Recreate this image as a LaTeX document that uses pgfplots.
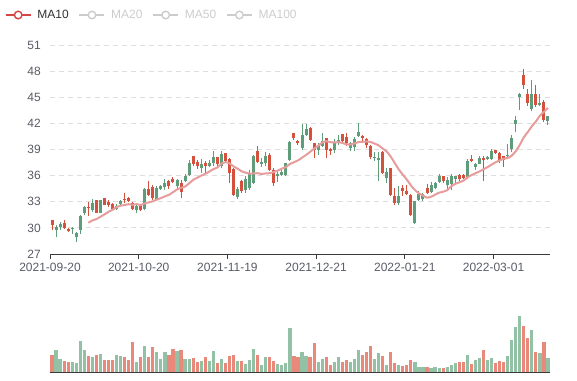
\documentclass[border=0pt]{standalone}
\usepackage{fontspec}
\setmainfont{Liberation Sans}
\usepackage{pgfplots}
\pgfplotsset{compat=1.18}
\usepackage{pgfplotstable}

\definecolor{cRed}{HTML}{D6503E}
\definecolor{cGreen}{HTML}{5F9C79}
\definecolor{vRed}{HTML}{E8897B}
\definecolor{vGreen}{HTML}{93C1A6}
\definecolor{maC}{HTML}{E69C9B}
\definecolor{legRed}{HTML}{D64545}
\definecolor{legGray}{HTML}{CCCCCC}
\definecolor{legText}{HTML}{333333}
\definecolor{axisc}{HTML}{3A3A3A}
\definecolor{labelc}{HTML}{5A5C66}
\definecolor{gridc}{HTML}{DEDEDE}

\pgfplotsset{
  up only/.style={restrict expr to domain={\thisrow{d}}{0.5:1.5}},
  down only/.style={restrict expr to domain={\thisrow{d}}{-0.5:0.5}},
  candle/.style n args={3}{forget plot, mark=none, draw=none, #1,
    error bars/.cd, y dir=plus, y explicit, error mark=none,
    error bar style={line width=#2, draw=#3}},
}

% i: trading day, o/h/l/c: open high low close, d: 1 up (green) 0 down (red), v: volume (relative)
\pgfplotstableread{
i o h l c d v
0 30.9 30.95 29.8 30.3 0 52
1 29.7 30.3 28.9 30.1 1 65
2 30.15 30.65 29.7 30.5 1 39
3 30.55 30.95 29.9 30.0 0 34
4 29.9 30.0 29.5 29.6 0 29
5 29.85 30.15 29.3 29.9 1 31
6 28.9 29.55 28.35 29.45 1 27
7 29.75 31.5 29.3 31.4 1 94
8 31.7 32.55 31.5 32.4 1 67
9 32.45 32.95 31.35 32.25 0 47
10 32.05 33.3 31.85 32.85 1 45
11 33.15 33.2 31.7 31.75 0 51
12 31.75 33.25 31.7 33.15 1 55
13 33.4 33.45 32.6 32.65 0 37
14 33.0 33.2 32.4 32.6 0 37
15 32.7 32.8 32.0 32.2 0 35
16 32.2 32.7 32.0 32.55 1 52
17 32.7 33.2 32.6 33.1 1 47
18 33.35 34.0 32.8 33.2 0 45
19 33.4 33.55 33.0 33.1 0 37
20 32.9 33.0 32.0 32.2 0 89
21 32.1 32.6 31.7 32.5 1 29
22 32.65 32.75 31.95 32.1 0 44
23 32.2 34.55 32.0 34.5 1 77
24 34.5 35.35 33.7 33.8 0 46
25 34.7 34.9 33.2 33.4 0 76
26 33.2 34.8 33.1 34.6 1 59
27 34.5 34.9 34.4 34.8 1 40
28 34.65 35.65 34.4 35.15 1 61
29 35.35 35.5 34.5 34.8 0 50
30 35.6 35.8 35.1 35.3 0 70
31 34.8 35.6 34.5 35.5 1 64
32 35.2 35.5 33.45 34.15 0 67
33 35.4 36.15 35.3 36.0 1 39
34 36.05 37.85 35.95 37.4 1 40
35 38.25 38.3 37.05 37.35 0 42
36 37.55 37.8 36.8 37.05 0 29
37 36.9 37.9 36.35 37.3 1 34
38 37.5 37.7 36.35 37.15 0 45
39 37.15 37.85 36.95 37.4 1 33
40 37.45 38.85 37.05 38.1 1 63
41 38.1 38.15 37.05 37.35 0 27
42 37.05 38.85 36.85 38.45 1 39
43 38.55 38.6 37.6 37.7 0 26
44 37.95 38.0 35.1 36.3 0 49
45 36.8 36.9 33.7 33.8 0 52
46 33.6 34.75 33.3 34.5 1 33
47 35.4 35.5 34.0 34.2 0 33
48 34.4 35.9 34.0 35.6 1 23
49 34.6 36.6 34.4 36.3 1 35
50 35.2 38.4 35.0 38.3 1 70
51 38.8 39.35 37.45 37.6 0 52
52 37.3 38.0 37.0 37.6 1 22
53 37.4 38.75 37.05 38.3 1 44
54 38.4 38.6 36.5 36.6 0 45
55 36.7 36.9 34.85 35.1 0 32
56 35.95 36.6 35.3 36.2 1 25
57 36.1 36.9 35.9 36.4 1 20
58 36.1 37.45 36.0 37.4 1 28
59 37.8 40.0 37.7 39.9 1 133
60 40.85 40.9 40.1 40.3 0 49
61 39.95 40.1 39.5 39.7 0 44
62 39.2 41.9 39.0 40.7 1 61
63 40.7 41.9 40.6 41.4 1 49
64 41.5 41.6 40.0 40.05 0 44
65 39.7 39.75 38.0 38.9 0 87
66 38.9 39.75 38.4 39.5 1 30
67 39.4 40.9 39.3 40.0 1 40
68 40.3 40.35 38.0 39.0 0 44
69 39.1 39.15 38.4 38.8 0 20
70 38.9 40.2 38.6 39.9 1 29
71 39.75 40.7 39.5 40.1 1 46
72 40.75 40.8 39.9 39.95 0 29
73 40.45 40.9 39.45 39.8 0 37
74 39.2 39.9 38.8 39.7 1 31
75 39.3 40.4 38.8 40.2 1 40
76 40.5 42.0 40.45 41.0 1 67
77 40.6 40.7 40.0 40.3 0 52
78 40.2 40.3 39.2 39.5 0 60
79 39.4 39.5 37.9 38.1 0 79
80 38.0 38.75 37.7 38.15 1 40
81 37.8 38.7 35.4 38.0 1 56
82 38.7 38.8 36.2 36.3 0 48
83 35.7 36.85 35.1 36.45 1 22
84 36.85 36.9 33.7 33.8 0 61
85 33.7 34.6 32.6 32.85 0 26
86 32.85 34.8 32.6 33.65 1 20
87 34.6 34.9 33.7 34.25 0 17
88 34.2 34.9 33.75 33.85 0 22
89 33.8 33.85 31.4 31.5 0 37
90 30.6 33.1 30.4 33.05 1 30
91 33.2 34.2 33.1 33.85 1 16
92 33.3 34.0 33.1 33.9 1 16
93 34.6 35.0 33.9 33.95 0 15
94 34.1 35.25 34.0 34.9 1 12
95 34.6 35.3 34.45 35.2 1 14
96 35.3 36.2 35.2 35.9 1 12
97 35.9 36.0 35.2 35.4 0 13
98 34.9 35.8 34.5 35.5 1 16
99 35.0 36.2 34.3 36.0 1 22
100 35.6 36.0 35.2 35.9 1 26
101 36.1 36.2 35.4 35.6 0 31
102 36.1 36.2 35.6 35.7 0 29
103 35.8 37.9 35.6 37.7 1 51
104 37.9 38.4 37.55 37.65 0 25
105 37.0 37.4 36.6 37.3 1 37
106 37.35 38.2 37.3 38.0 1 42
107 38.0 38.3 35.4 37.8 0 66
108 37.9 38.3 37.8 38.1 1 37
109 37.95 39.1 37.85 38.8 1 42
110 38.9 38.95 38.5 38.6 0 27
111 38.55 38.7 37.5 37.75 0 33
112 38.2 38.2 36.95 37.8 0 30
113 38.2 39.65 37.9 38.4 1 48
114 39.1 40.7 38.7 40.35 1 95
115 41.9 42.9 41.0 42.35 1 136
116 45.0 45.45 43.5 45.35 1 168
117 47.55 48.2 46.0 46.4 0 139
118 45.4 46.0 44.05 44.3 0 103
119 43.6 47.0 43.4 45.4 1 127
120 45.4 46.4 43.9 44.1 0 61
121 44.1 45.4 44.0 44.3 1 58
122 44.5 44.65 42.15 42.4 0 91
123 42.3 42.9 41.8 42.8 1 42
}\candles

% MA10 line as read
\pgfplotstableread{
i m
9 30.59
10 30.85
11 31.01
12 31.28
13 31.54
14 31.84
15 32.07
16 32.38
17 32.55
18 32.63
19 32.72
20 32.65
21 32.73
22 32.62
23 32.81
24 32.93
25 33.05
26 33.25
27 33.42
28 33.62
29 33.79
30 34.10
31 34.40
32 34.60
33 34.75
34 35.11
35 35.51
36 35.75
37 36.00
38 36.20
39 36.46
40 36.74
41 36.93
42 37.36
43 37.53
44 37.42
45 37.06
46 36.81
47 36.50
48 36.34
49 36.23
50 36.25
51 36.28
52 36.19
53 36.25
54 36.28
55 36.41
56 36.58
57 36.80
58 36.98
59 37.34
60 37.54
61 37.75
62 38.06
63 38.37
64 38.72
65 39.10
66 39.43
67 39.79
68 39.95
69 39.84
70 39.80
71 39.84
72 39.76
73 39.60
74 39.57
75 39.70
76 39.85
77 39.88
78 39.93
79 39.86
80 39.68
81 39.47
82 39.11
83 38.77
84 38.18
85 37.45
86 36.71
87 36.11
88 35.54
89 34.88
90 34.35
91 33.96
92 33.72
93 33.47
94 33.58
95 33.81
96 34.04
97 34.15
98 34.32
99 34.77
100 35.05
101 35.23
102 35.41
103 35.78
104 36.06
105 36.27
106 36.48
107 36.72
108 36.98
109 37.26
110 37.53
111 37.74
112 37.95
113 38.02
114 38.29
115 38.80
116 39.53
117 40.39
118 41.01
119 41.67
120 42.22
121 42.88
122 43.34
123 43.78
}\maten

\begin{document}
\begin{tikzpicture}[x=1pt,y=1pt]
\useasboundingbox (0,0) rectangle (577,380);
\begin{axis}[
  at={(50pt,126pt)}, anchor=south west,
  scale only axis, width=500pt, height=209pt,
  xmin=-0.5, xmax=123.5, ymin=27, ymax=51,
  ytick={27,30,...,51},
  xtick={-0.5,21.5,43.5,65.5,87.5,109.5},
  xticklabels={2021-09-20,2021-10-20,2021-11-19,2021-12-21,2022-01-21,2022-03-01},
  axis x line*=bottom, axis y line*=left,
  y axis line style={draw=none},
  x axis line style={draw=axisc, line width=1pt},
  ytick style={draw=none},
  xtick style={draw=axisc, line width=1pt},
  tick align=outside, major tick length=5pt,
  ymajorgrids, grid style={gridc, dash pattern=on 5pt off 4pt, line width=1pt},
  ticklabel style={font=\fontsize{12}{14}\selectfont, text=labelc},
  yticklabel style={inner sep=0pt, xshift=-4pt},
  xticklabel style={inner sep=0pt, yshift=-3.5pt},
  /pgf/number format/assume math mode=true,
  legend columns=4,
  legend cell align=left,
  legend style={at={(-0.09,1.1435)}, anchor=west, draw=none, fill=none,
    inner sep=0pt, outer sep=0pt,
    font=\fontsize{12}{14}\selectfont,
    nodes={inner sep=0pt},
    /tikz/every odd column/.style={column sep=6pt},
    /tikz/every even column/.style={column sep=10pt}},
]
% wicks
\addplot[candle={up only}{1pt}{cGreen}]
  table[x=i, y=l, y error expr=\thisrow{h}-\thisrow{l}] {\candles};
\addplot[candle={down only}{1pt}{cRed}]
  table[x=i, y=l, y error expr=\thisrow{h}-\thisrow{l}] {\candles};
% bodies
\addplot[candle={up only}{3pt}{cGreen}]
  table[x=i, y=o, y error expr={max(\thisrow{c}-\thisrow{o},0.1)}] {\candles};
\addplot[candle={down only}{3pt}{cRed}]
  table[x=i, y=c, y error expr={max(\thisrow{o}-\thisrow{c},0.1)}] {\candles};
% MA10
\addplot[forget plot, maC, line width=2pt, smooth, no marks] table[x=i, y=m] {\maten};

\addlegendimage{legend image code/.code={
  \draw[legRed, line width=1.4pt] (0pt,0pt) -- (25pt,0pt);
  \draw[legRed, line width=1.4pt, fill=white] (12.5pt,0pt) circle (3.8pt);}}
\addlegendentry{\textcolor{legText}{MA10}}
\addlegendimage{legend image code/.code={
  \draw[legGray, line width=1.4pt] (0pt,0pt) -- (25pt,0pt);
  \draw[legGray, line width=1.4pt, fill=white] (12.5pt,0pt) circle (3.8pt);}}
\addlegendentry{\textcolor{legGray}{MA20}}
\addlegendimage{legend image code/.code={
  \draw[legGray, line width=1.4pt] (0pt,0pt) -- (25pt,0pt);
  \draw[legGray, line width=1.4pt, fill=white] (12.5pt,0pt) circle (3.8pt);}}
\addlegendentry{\textcolor{legGray}{MA50}}
\addlegendimage{legend image code/.code={
  \draw[legGray, line width=1.4pt] (0pt,0pt) -- (25pt,0pt);
  \draw[legGray, line width=1.4pt, fill=white] (12.5pt,0pt) circle (3.8pt);}}
\addlegendentry{\textcolor{legGray}{MA100}}
\end{axis}

\begin{axis}[
  at={(50pt,8pt)}, anchor=south west,
  scale only axis, width=500pt, height=62pt,
  xmin=-0.5, xmax=123.5, ymin=0, ymax=186,
  axis x line*=bottom, axis y line=none,
  xtick=\empty, ytick=\empty,
  x axis line style={draw=axisc, line width=1pt},
]
\addplot[ycomb, vGreen, line width=3.2pt, no marks, up only] table[x=i, y=v] {\candles};
\addplot[ycomb, vRed, line width=3.2pt, no marks, down only] table[x=i, y=v] {\candles};
\end{axis}
\end{tikzpicture}
\end{document}
